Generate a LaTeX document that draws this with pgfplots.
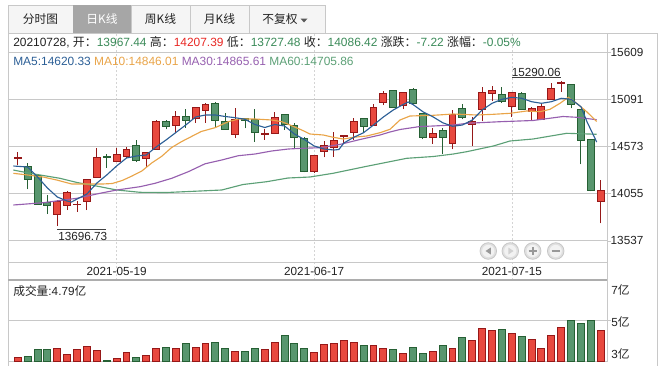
\documentclass[border=0pt]{standalone}
\usepackage{fontspec}
\setmainfont{Liberation Sans}
\newfontfamily\cjk{Noto Sans CJK SC}
\usepackage{pgfplots}
\pgfplotsset{compat=1.18}
\definecolor{rfill}{RGB}{232,72,62}
\definecolor{rdark}{RGB}{150,24,24}
\definecolor{gfill}{RGB}{88,150,110}
\definecolor{gdark}{RGB}{38,96,52}
\definecolor{ma5c}{RGB}{44,95,150}
\definecolor{ma10c}{RGB}{233,164,72}
\definecolor{ma30c}{RGB}{150,95,175}
\definecolor{ma60c}{RGB}{92,160,118}
\definecolor{gridc}{RGB}{200,200,200}
\definecolor{dashc}{RGB}{212,212,212}
\definecolor{gtxt}{RGB}{58,138,88}
\definecolor{rtxt}{RGB}{232,40,36}
\definecolor{tabbg}{RGB}{245,245,245}
\definecolor{tabsel}{RGB}{166,166,166}
\definecolor{txt}{RGB}{34,34,34}
\newcommand\fs{\fontsize{8.8pt}{10pt}\selectfont}
\newcommand\finfo{\fontsize{8.95pt}{10pt}\selectfont}
\pgfplotsset{
  rw/.style={draw=rdark, line width=0.75pt},
  rb/.style={draw=rdark, fill=rfill, line width=0.75pt},
  gw/.style={draw=gdark, line width=0.75pt},
  gb/.style={draw=gdark, fill=gfill, line width=0.75pt},
}
\begin{document}
\begin{tikzpicture}
\useasboundingbox (0,0) rectangle (501pt,-279pt);
\begin{axis}[
  at={(6pt,-210pt)}, anchor=south west,
  scale only axis, width=449.25pt, height=185.25pt,
  xmin=-0.992, xmax=59.636, ymin=13105.6, ymax=15817.6,
  axis line style={draw=gridc},
  xtick={10,30,50}, xticklabels={}, xmajorgrids,
  major x grid style={draw=dashc, dash pattern=on 1.5pt off 1.5pt},
  x tick style={draw=none},
  ytick={13537,14055,14573,15091,15609},
  ymajorgrids, major y grid style={draw=gridc},
  extra y ticks={13303.2}, extra y tick labels={},
  extra y tick style={grid=major, major tick length=0pt},
  ytick pos=right, yticklabel pos=right, tick align=outside, major tick length=3pt,
  y tick style={draw=gridc},
  scaled y ticks=false,
  /pgf/number format/assume math mode=true,
  yticklabel style={font=\fs, text=txt, xshift=-3.75pt, /pgf/number format/1000 sep={}},
  clip=true,
]
% candles: wick (low-high), body (open-close)
\addplot[rw] coordinates {(0,14368) (0,14514)};
\addplot[rb] coordinates {(-0.35,14445) (0.35,14445) (0.35,14451) (-0.35,14451)} -- cycle;
\addplot[gw] coordinates {(1,14101) (1,14394)};
\addplot[gb] coordinates {(0.65,14211) (1.35,14211) (1.35,14357) (0.65,14357)} -- cycle;
\addplot[gw] coordinates {(2,13935) (2,14262)};
\addplot[gb] coordinates {(1.65,13940) (2.35,13940) (2.35,14248) (1.65,14248)} -- cycle;
\addplot[gw] coordinates {(3,13830) (3,14039)};
\addplot[gb] coordinates {(2.65,13929) (3.35,13929) (3.35,13954) (2.65,13954)} -- cycle;
\addplot[rw] coordinates {(4,13696.73) (4,13979)};
\addplot[rb] coordinates {(3.65,13827) (4.35,13827) (4.35,13973) (3.65,13973)} -- cycle;
\addplot[rw] coordinates {(5,13874) (5,14083)};
\addplot[rb] coordinates {(4.65,13929) (5.35,13929) (5.35,14069) (4.65,14069)} -- cycle;
\addplot[rw] coordinates {(6,13856) (6,13973)};
\addplot[rb] coordinates {(5.65,13934) (6.35,13934) (6.35,13940) (5.65,13940)} -- cycle;
\addplot[rw] coordinates {(7,13874) (7,14215)};
\addplot[rb] coordinates {(6.65,13965) (7.35,13965) (7.35,14211) (6.65,14211)} -- cycle;
\addplot[rw] coordinates {(8,14230) (8,14552)};
\addplot[rb] coordinates {(7.65,14233) (8.35,14233) (8.35,14448) (7.65,14448)} -- cycle;
\addplot[gw] coordinates {(9,14339) (9,14486)};
\addplot[gb] coordinates {(8.65,14448) (9.35,14448) (9.35,14459) (8.65,14459)} -- cycle;
\addplot[rw] coordinates {(10,14400) (10,14552)};
\addplot[rb] coordinates {(9.65,14405) (10.35,14405) (10.35,14486) (9.65,14486)} -- cycle;
\addplot[rw] coordinates {(11,14442) (11,14563)};
\addplot[rb] coordinates {(10.65,14459) (11.35,14459) (11.35,14541) (10.65,14541)} -- cycle;
\addplot[gw] coordinates {(12,14400) (12,14643)};
\addplot[gb] coordinates {(11.65,14416) (12.35,14416) (12.35,14580) (11.65,14580)} -- cycle;
\addplot[rw] coordinates {(13,14350) (13,14514)};
\addplot[rb] coordinates {(12.65,14442) (13.35,14442) (13.35,14508) (12.65,14508)} -- cycle;
\addplot[rw] coordinates {(14,14537) (14,14862)};
\addplot[rb] coordinates {(13.65,14541) (14.35,14541) (14.35,14851) (13.65,14851)} -- cycle;
\addplot[gw] coordinates {(15,14760) (15,14862)};
\addplot[gb] coordinates {(14.65,14789) (15.35,14789) (15.35,14844) (14.65,14844)} -- cycle;
\addplot[rw] coordinates {(16,14716) (16,14961)};
\addplot[rb] coordinates {(15.65,14804) (16.35,14804) (16.35,14899) (15.65,14899)} -- cycle;
\addplot[gw] coordinates {(17,14778) (17,14983)};
\addplot[gb] coordinates {(16.65,14859) (17.35,14859) (17.35,14903) (16.65,14903)} -- cycle;
\addplot[rw] coordinates {(18,14833) (18,15005)};
\addplot[rb] coordinates {(17.65,14881) (18.35,14881) (18.35,15002) (17.65,15002)} -- cycle;
\addplot[rw] coordinates {(19,14833) (19,15046)};
\addplot[rb] coordinates {(18.65,14969) (19.35,14969) (19.35,15035) (18.65,15035)} -- cycle;
\addplot[gw] coordinates {(20,14789) (20,15063)};
\addplot[gb] coordinates {(19.65,14859) (20.35,14859) (20.35,15046) (19.65,15046)} -- cycle;
\addplot[gw] coordinates {(21,14757) (21,14943)};
\addplot[gb] coordinates {(20.65,14760) (21.35,14760) (21.35,14848) (20.65,14848)} -- cycle;
\addplot[rw] coordinates {(22,14668) (22,14991)};
\addplot[rb] coordinates {(21.65,14705) (22.35,14705) (22.35,14870) (21.65,14870)} -- cycle;
\addplot[gw] coordinates {(23,14771) (23,14884)};
\addplot[gb] coordinates {(22.65,14862) (23.35,14862) (23.35,14881) (22.65,14881)} -- cycle;
\addplot[gw] coordinates {(24,14624) (24,14980)};
\addplot[gb] coordinates {(23.65,14727) (24.35,14727) (24.35,14870) (23.65,14870)} -- cycle;
\addplot[rw] coordinates {(25,14643) (25,14760)};
\addplot[rb] coordinates {(24.65,14703) (25.35,14703) (25.35,14709) (24.65,14709)} -- cycle;
\addplot[rw] coordinates {(26,14708) (26,14947)};
\addplot[rb] coordinates {(25.65,14712) (26.35,14712) (26.35,14892) (25.65,14892)} -- cycle;
\addplot[gw] coordinates {(27,14753) (27,14928)};
\addplot[gb] coordinates {(26.65,14815) (27.35,14815) (27.35,14925) (26.65,14925)} -- cycle;
\addplot[gw] coordinates {(28,14558) (28,14826)};
\addplot[gb] coordinates {(27.65,14672) (28.35,14672) (28.35,14804) (27.65,14804)} -- cycle;
\addplot[gw] coordinates {(29,14288) (29,14679)};
\addplot[gb] coordinates {(28.65,14302) (29.35,14302) (29.35,14661) (28.65,14661)} -- cycle;
\addplot[rw] coordinates {(30,14284) (30,14481)};
\addplot[rb] coordinates {(29.65,14295) (30.35,14295) (30.35,14478) (29.65,14478)} -- cycle;
\addplot[rw] coordinates {(31,14453) (31,14635)};
\addplot[rb] coordinates {(30.65,14514) (31.35,14514) (31.35,14580) (30.65,14580)} -- cycle;
\addplot[rw] coordinates {(32,14459) (32,14727)};
\addplot[rb] coordinates {(31.65,14558) (32.35,14558) (32.35,14640) (31.65,14640)} -- cycle;
\addplot[rw] coordinates {(33,14600) (33,14697)};
\addplot[rb] coordinates {(32.65,14681) (33.35,14681) (33.35,14690) (32.65,14690)} -- cycle;
\addplot[rw] coordinates {(34,14643) (34,14888)};
\addplot[rb] coordinates {(33.65,14727) (34.35,14727) (34.35,14844) (33.65,14844)} -- cycle;
\addplot[gw] coordinates {(35,14716) (35,14884)};
\addplot[gb] coordinates {(34.65,14793) (35.35,14793) (35.35,14881) (34.65,14881)} -- cycle;
\addplot[rw] coordinates {(36,14797) (36,15038)};
\addplot[rb] coordinates {(35.65,14800) (36.35,14800) (36.35,15002) (35.65,15002)} -- cycle;
\addplot[rw] coordinates {(37,15027) (37,15181)};
\addplot[rb] coordinates {(36.65,15052) (37.35,15052) (37.35,15156) (36.65,15156)} -- cycle;
\addplot[gw] coordinates {(38,14999) (38,15191)};
\addplot[gb] coordinates {(37.65,15002) (38.35,15002) (38.35,15189) (37.65,15189)} -- cycle;
\addplot[rw] coordinates {(39,14983) (39,15169)};
\addplot[rb] coordinates {(38.65,15027) (39.35,15027) (39.35,15167) (38.65,15167)} -- cycle;
\addplot[gw] coordinates {(40,15043) (40,15217)};
\addplot[gb] coordinates {(39.65,15046) (40.35,15046) (40.35,15199) (39.65,15199)} -- cycle;
\addplot[gw] coordinates {(41,14650) (41,14938)};
\addplot[gb] coordinates {(40.65,14672) (41.35,14672) (41.35,14936) (40.65,14936)} -- cycle;
\addplot[rw] coordinates {(42,14599) (42,14778)};
\addplot[rb] coordinates {(41.65,14672) (42.35,14672) (42.35,14716) (41.65,14716)} -- cycle;
\addplot[gw] coordinates {(43,14489) (43,14778)};
\addplot[gb] coordinates {(42.65,14672) (43.35,14672) (43.35,14745) (42.65,14745)} -- cycle;
\addplot[rw] coordinates {(44,14541) (44,14972)};
\addplot[rb] coordinates {(43.65,14599) (44.35,14599) (44.35,14928) (43.65,14928)} -- cycle;
\addplot[gw] coordinates {(45,14870) (45,15035)};
\addplot[gb] coordinates {(44.65,14892) (45.35,14892) (45.35,14991) (44.65,14991)} -- cycle;
\addplot[rw] coordinates {(46,14580) (46,14892)};
\addplot[rb] coordinates {(45.65,14815) (46.35,14815) (46.35,14848) (45.65,14848)} -- cycle;
\addplot[rw] coordinates {(47,14855) (47,15221)};
\addplot[rb] coordinates {(46.65,14983) (47.35,14983) (47.35,15167) (46.65,15167)} -- cycle;
\addplot[rw] coordinates {(48,15074) (48,15239)};
\addplot[rb] coordinates {(47.65,15156) (48.35,15156) (48.35,15184) (47.65,15184)} -- cycle;
\addplot[gw] coordinates {(49,15052) (49,15221)};
\addplot[gb] coordinates {(48.65,15063) (49.35,15063) (49.35,15145) (48.65,15145)} -- cycle;
\addplot[rw] coordinates {(50,14899) (50,15169)};
\addplot[rb] coordinates {(49.65,15008) (50.35,15008) (50.35,15167) (49.65,15167)} -- cycle;
\addplot[gw] coordinates {(51,14972) (51,15167)};
\addplot[gb] coordinates {(50.65,14980) (51.35,14980) (51.35,15151) (50.65,15151)} -- cycle;
\addplot[rw] coordinates {(52,14855) (52,15008)};
\addplot[rb] coordinates {(51.65,14954) (52.35,14954) (52.35,14986) (51.65,14986)} -- cycle;
\addplot[rw] coordinates {(53,14862) (53,15035)};
\addplot[rb] coordinates {(52.65,14873) (53.35,14873) (53.35,15016) (52.65,15016)} -- cycle;
\addplot[rw] coordinates {(54,15080) (54,15265)};
\addplot[rb] coordinates {(53.65,15082) (54.35,15082) (54.35,15210) (53.65,15210)} -- cycle;
\addplot[rw] coordinates {(55,15173) (55,15290.06)};
\addplot[rb] coordinates {(54.65,15263) (55.35,15263) (55.35,15269) (54.65,15269)} -- cycle;
\addplot[gw] coordinates {(56,14991) (56,15257)};
\addplot[gb] coordinates {(55.65,15035) (56.35,15035) (56.35,15254) (55.65,15254)} -- cycle;
\addplot[gw] coordinates {(57,14376) (57,14985)};
\addplot[gb] coordinates {(56.65,14632) (57.35,14632) (57.35,14983) (56.65,14983)} -- cycle;
\addplot[gw] coordinates {(58,14080) (58,14645)};
\addplot[gb] coordinates {(57.65,14093.64) (58.35,14093.64) (58.35,14643) (57.65,14643)} -- cycle;
\addplot[rw] coordinates {(59,13727.48) (59,14207.39)};
\addplot[rb] coordinates {(58.65,13967.44) (59.35,13967.44) (59.35,14086.42) (58.65,14086.42)} -- cycle;
% MA60
\addplot[ma60c, line width=0.85pt] coordinates {(-0.455,14313.4) (1.235,14277.1) (4.271,14222.2) (5.992,14176.1) (8.320,14130) (10.010,14093.8) (12.368,14068.5) (15.071,14066.3) (18.441,14082.8) (20.638,14093.8) (22.794,14154.1) (25.192,14184.9) (27.348,14225.5) (29.575,14236.5) (31.903,14277.1) (35.314,14354) (39.362,14441.8) (42.055,14461.6) (44.079,14489) (45.435,14514.3) (48.128,14576.9) (49.818,14631.8) (52.146,14653.7) (55.557,14716.3) (58.593,14705.86)};
% MA30
\addplot[ma30c, line width=0.85pt] coordinates {(-0.455,13929.1) (2.581,13954.3) (5.962,14002.6) (8.320,14057.5) (10.010,14093.8) (12.368,14130) (13.887,14167.3) (15.577,14222.2) (17.257,14294.7) (18.947,14381.4) (20.638,14423.2) (22.318,14470.4) (24.008,14489) (25.698,14522) (27.379,14543.9) (28.735,14551.6) (30.587,14558.2) (32.611,14594.4) (34.636,14648.2) (36.660,14697.7) (37.672,14730.6) (38.684,14758) (40.709,14791) (42.055,14796.5) (44.079,14807.5) (45.466,14826.1) (48.806,14843.7) (52.146,14856.9) (55.182,14900.8) (56.599,14892) (58.593,14865.61)};
% MA10
\addplot[ma10c, line width=0.85pt] coordinates {(-0.455,14277.1) (1.002,14258.5) (2.551,14236.5) (3.937,14203.6) (5.455,14159.6) (6.974,14159.6) (8.553,14159.6) (9.555,14165.1) (10.567,14198.1) (11.559,14247.5) (12.551,14302.4) (13.553,14390.2) (14.555,14462.7) (15.557,14559.3) (16.559,14624.1) (17.561,14680.1) (18.563,14736.1) (19.960,14777.8) (21.306,14843.7) (22.318,14873.3) (24.008,14873.3) (25.698,14862.4) (26.711,14843.7) (27.379,14815.1) (28.735,14752.6) (29.575,14708.6) (30.921,14697.7) (31.933,14672.4) (32.945,14653.7) (33.957,14672.4) (35.314,14686.7) (36.660,14722.9) (37.672,14760.2) (38.684,14862.4) (39.696,14906.3) (40.709,14909.6) (42.055,14914) (44.079,14928.2) (46.447,14917.3) (48.128,14924.9) (49.818,14935.9) (51.508,14961.2) (52.854,14953.5) (53.866,14979.8) (54.879,15045.7) (55.719,15111.6) (56.569,15045.7) (57.581,14953.5) (58.593,14846.01)};
% MA5
\addplot[ma5c, line width=0.85pt] coordinates {(-0.455,14357.3) (1.00,14346.3) (2.00,14236.5) (3.00,14115.7) (4.00,14016.9) (4.98,13973) (5.44,13962) (6.00,13994.9) (7.00,14049.8) (8.01,14170.6) (9.00,14258.5) (10.0,14357.3) (11.0,14445.1) (12.0,14467.1) (13.0,14478.1) (14.0,14565.9) (15.0,14642.8) (16.0,14725.1) (17.0,14807.5) (18.0,14895.3) (19.0,14917.3) (20.0,14917.3) (21.0,14900.8) (22.0,14887.6) (23.0,14870) (24.0,14813) (25.0,14780) (26.0,14813) (27.0,14796.5) (28.0,14708.6) (29.0,14648.2) (30.0,14576.9) (31.0,14543.9) (32.0,14533) (32.5,14538.5) (33.0,14609.8) (34.0,14672.4) (35.0,14722.9) (36.0,14807.5) (37.0,14895.3) (38.0,14972.2) (39.0,15032.5) (39.5,15060) (40.0,15032.5) (41.0,14953.5) (42.0,14898.6) (43.0,14832.7) (44.0,14793.2) (45.0,14807.5) (46.0,14862.4) (47.0,14972.2) (48.0,15045.7) (49.0,15089.6) (50.0,15111.6) (51.0,15100.6) (52.0,15063.3) (53.0,15045.7) (54.0,15063.3) (55.0,15100.6) (56.0,15089.6) (57.0,15008.4) (57.59,14848) (58.593,14620.33)};
\end{axis}
% volume axis
\begin{axis}[
  at={(6pt,-270.75pt)}, anchor=south west,
  scale only axis, width=449.25pt, height=60.75pt,
  xmin=-0.992, xmax=59.636, ymin=3, ymax=6.95,
  axis line style={draw=gridc},
  xtick=\empty,
  ytick={5}, yticklabels={},
  ymajorgrids, major y grid style={draw=gridc},
  ytick pos=right, tick align=outside, major tick length=3pt,
  y tick style={draw=gridc},
]
\addplot[ybar, bar width=0.7, bar shift=0pt, draw=rdark, fill=rfill, line width=0.75pt] coordinates {(0,3.18) (4,3.63) (5,3.34) (6,3.54) (7,3.72) (8,3.49) (10,3.13) (11,3.42) (13,3.28) (14,3.63) (16,3.63) (18,3.67) (19,3.86) (22,3.47) (25,3.54) (26,3.91) (30,3.42) (31,3.81) (32,3.86) (33,4.02) (34,3.91) (36,3.77) (37,3.63) (39,3.38) (42,3.47) (44,3.62) (46,4.02) (47,4.60) (48,4.51) (50,4.35) (52,4.06) (53,3.62) (54,4.25) (55,4.64) (59,4.51)};
\addplot[ybar, bar width=0.7, bar shift=0pt, draw=gdark, fill=gfill, line width=0.75pt] coordinates {(1,3.24) (2,3.54) (3,3.54) (9,3.02) (12,3.18) (15,3.67) (17,3.86) (20,3.91) (21,3.63) (23,3.47) (24,3.62) (27,4.25) (28,3.86) (29,3.59) (35,3.77) (38,3.57) (40,3.67) (41,3.38) (43,3.77) (45,4.16) (49,4.55) (51,4.20) (56,4.99) (57,4.84) (58,4.99)};
\end{axis}
\begin{scope}[x=0.75pt,y=-0.75pt]
% tabs
\draw[draw=gridc, fill=tabbg] (8,5) rectangle (73,33);
\fill[tabsel] (73,5) rectangle (131,33);
\draw[draw=gridc, fill=tabbg] (131,5) rectangle (190,33);
\draw[draw=gridc, fill=tabbg] (190,5) rectangle (249,33);
\draw[draw=gridc, fill=tabbg] (249,5) rectangle (325,33);
\node[font=\fs\cjk, text=txt] at (40.5,19.5) {分时图};
\node[font=\fs\cjk, text=white] at (102,19.5) {日K线};
\node[font=\fs\cjk, text=txt] at (160.5,19.5) {周K线};
\node[font=\fs\cjk, text=txt] at (219.5,19.5) {月K线};
\node[font=\fs\cjk, text=txt] at (280,19.5) {不复权};
\fill[black!65] (300.5,18.5) -- (307.5,18.5) -- (304,22.5) -- cycle;
% frame pieces
\draw[gridc] (607,33) -- (657,33) -- (657,366);
\draw[gridc] (8,361) -- (8,366);
\draw[line width=1.5pt, black!32] (8,280) -- (607,280);
% info lines
\node[anchor=west, font=\finfo, inner sep=0, text=txt] at (13,42.5) {20210728, {\cjk 开：}\textcolor{gtxt}{13967.44} {\cjk 高：}\textcolor{rtxt}{14207.39} {\cjk 低：}\textcolor{gtxt}{13727.48} {\cjk 收：}\textcolor{gtxt}{14086.42} {\cjk 涨跌：}\textcolor{gtxt}{-7.22} {\cjk 涨幅：}\textcolor{gtxt}{-0.05\%}};
\node[anchor=west, font=\finfo, inner sep=0] at (13,61) {\textcolor{ma5c}{MA5:14620.33} \textcolor{ma10c}{MA10:14846.01} \textcolor{ma30c}{MA30:14865.61} \textcolor{ma60c}{MA60:14705.86}};
% extreme annotations
\draw[black!75] (57.3,229) -- (106,229);
\node[anchor=west, font=\fs, inner sep=0, text=txt] at (58,236.5) {13696.73};
\draw[black!75] (512,77.7) -- (561,77.7);
\node[anchor=east, font=\fs, inner sep=0, text=txt] at (561,72.3) {15290.06};
% dates
\node[font=\fs, text=txt] at (116.6,271.5) {2021-05-19};
\node[font=\fs, text=txt] at (314.2,271.5) {2021-06-17};
\node[font=\fs, text=txt] at (511.8,271.5) {2021-07-15};
% volume texts
\node[anchor=west, font=\fs, inner sep=0, text=txt] at (13,291) {{\cjk 成交量}:4.79{\cjk 亿}};
\node[anchor=west, font=\fs, inner sep=0, text=txt] at (611,290) {7{\cjk 亿}};
\node[anchor=west, font=\fs, inner sep=0, text=txt] at (611,322) {5{\cjk 亿}};
\node[anchor=west, font=\fs, inner sep=0, text=txt] at (611,354.5) {3{\cjk 亿}};
% navigation buttons
\foreach \bx in {488.3,510.3,532.7,555.7} {
  \draw[draw=black!22, fill=black!12, line width=0.6pt] (\bx,251) circle[radius=6.2pt];
  \fill[black!5] (\bx,251) circle[radius=4.6pt];
}
\fill[black!40] (490.8,247.5) -- (490.8,254.5) -- (485.6,251) -- cycle;
\fill[black!18] (508.3,247.5) -- (508.3,254.5) -- (513.5,251) -- cycle;
\draw[black!40, line width=1.3pt] (528.7,251) -- (536.7,251) (532.7,247) -- (532.7,255);
\draw[black!40, line width=1.3pt] (551.7,251) -- (559.7,251);
\end{scope}
\end{tikzpicture}
\end{document}
